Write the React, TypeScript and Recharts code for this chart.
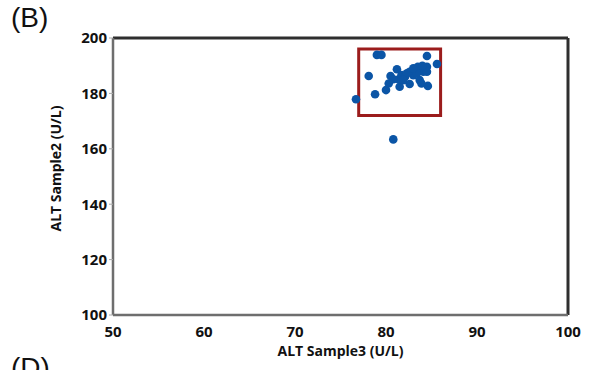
import React from "react";
import {
  ScatterChart,
  Scatter,
  XAxis,
  YAxis,
  ReferenceArea,
  ReferenceLine,
} from "recharts";

// ALT readings (U/L): Sample3 on x, Sample2 on y
const sample3 = [
  76.7, 80.8, 78.8, 78.1, 79.0, 79.5, 84.5, 85.6, 84.6, 80.0, 80.3, 80.5,
  81.2, 81.5, 81.4, 81.7, 82.1, 82.6, 82.6, 83.0, 83.5, 83.7, 83.9, 84.1,
  84.5, 84.5, 83.4, 82.3, 80.8, 81.9, 83.0, 84.0,
];
const sample2 = [
  177.9, 163.4, 179.7, 186.3, 193.9, 193.9, 193.5, 190.6, 182.7, 181.2,
  183.6, 186.3, 188.7, 182.4, 185.1, 186.6, 186.0, 187.8, 183.4, 186.6,
  189.6, 184.8, 183.6, 187.8, 189.6, 187.8, 187.3, 187.3, 185.1, 184.8,
  189.1, 190.0,
];
const xTicks = [50, 60, 70, 80, 90, 100];
const yTicks = [100, 120, 140, 160, 180, 200];
// highlighted cluster
const boxX = [77, 86];
const boxY = [172, 196];

const points = sample3.map((x, i) => ({ x, y: sample2[i] }));

const tickStyle = {
  fontFamily: "'Open Sans', sans-serif",
  fontSize: 15,
  fontWeight: 700,
  fill: "#111",
};
const labelStyle = { ...tickStyle, fontSize: 14 };

const Dot = (props: any) => (
  <circle cx={props.cx} cy={props.cy} r={4.3} fill="#0b55a6" />
);

export default function App() {
  return (
    <div
      style={{
        position: "absolute",
        left: 0,
        top: 0,
        width: 590,
        height: 370,
        overflow: "hidden",
        background: "#fff",
      }}
    >
      <div
        style={{
          position: "absolute",
          left: 11,
          top: 2,
          fontFamily: "'Liberation Sans', Arial, sans-serif",
          fontSize: 28,
          color: "#111",
        }}
      >
        (B)
      </div>
      <div
        style={{
          position: "absolute",
          left: 11,
          top: 352,
          fontFamily: "'Liberation Sans', Arial, sans-serif",
          fontSize: 28,
          color: "#111",
        }}
      >
        (D)
      </div>
      <div style={{ position: "absolute", left: 0, top: 0 }}>
        <ScatterChart
          width={590}
          height={370}
          margin={{ top: 38, right: 22, bottom: 0, left: 0 }}
        >
          <XAxis
            type="number"
            dataKey="x"
            domain={[50, 100]}
            ticks={xTicks}
            interval={0}
            height={55}
            tickLine={false}
            tickMargin={5}
            axisLine={{ stroke: "#6e6e6e", strokeWidth: 2.5 }}
            tick={tickStyle}
            label={{
              value: "ALT Sample3 (U/L)",
              position: "insideBottom",
              offset: 14,
              style: labelStyle,
            }}
          />
          <YAxis
            type="number"
            dataKey="y"
            domain={[100, 200]}
            ticks={yTicks}
            interval={0}
            width={113}
            tickSize={4}
            tickLine={{ stroke: "#aaa" }}
            axisLine={{ stroke: "#6e6e6e", strokeWidth: 2.5 }}
            tick={tickStyle}
            label={{
              value: "ALT Sample2 (U/L)",
              angle: -90,
              position: "insideLeft",
              offset: 56,
              dy: -8,
              style: { ...labelStyle, textAnchor: "middle" },
            }}
          />
          <ReferenceLine y={200} stroke="#2e2e2e" strokeWidth={3} />
          <ReferenceLine x={100} stroke="#2e2e2e" strokeWidth={3} />
          <ReferenceArea
            x1={boxX[0]}
            x2={boxX[1]}
            y1={boxY[0]}
            y2={boxY[1]}
            fill="none"
            stroke="#9b1c1c"
            strokeWidth={3}
          />
          <Scatter data={points} shape={Dot} isAnimationActive={false} />
        </ScatterChart>
      </div>
    </div>
  );
}
